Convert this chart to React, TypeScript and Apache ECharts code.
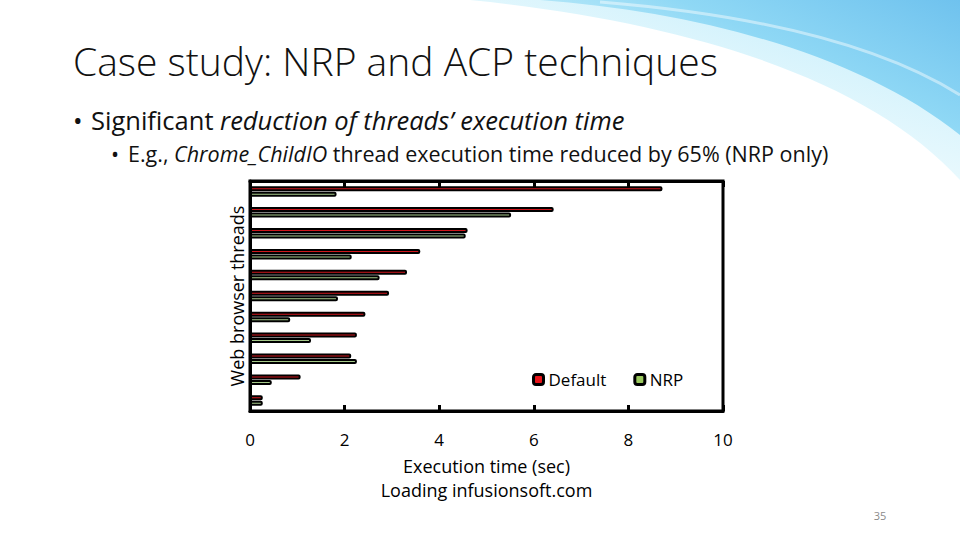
import React, { useEffect, useRef } from "react";
import * as echarts from "echarts";

const categories = ["T1", "T2", "T3", "T4", "T5", "T6", "T7", "T8", "T9", "T10", "T11"];
const defaultTimes = [8.72, 6.42, 4.6, 3.6, 3.32, 2.94, 2.44, 2.26, 2.14, 1.07, 0.27];
const nrpTimes = [1.83, 5.52, 4.56, 2.15, 2.74, 1.86, 0.85, 1.29, 2.26, 0.46, 0.27];
const xTicks = { min: 0, max: 10, interval: 2 };

const FONT = "Open Sans";

echarts.graphic.registerShape(
  "swooshMain",
  echarts.graphic.extendPath("M 540 0 C 700 12 860 55 960 135 L 960 0 Z", {})
);
echarts.graphic.registerShape(
  "swooshHalo",
  echarts.graphic.extendPath("M 470 0 C 690 22 870 80 960 180 L 960 0 Z", {})
);

export default function App() {
  const ref = useRef<HTMLDivElement>(null);
  useEffect(() => {
    if (!ref.current) return;
    const chart = echarts.init(ref.current, null, { renderer: "svg" });
    const axisLineStyle = { color: "#000", width: 3 };
    chart.setOption({
      animation: false,
      backgroundColor: "#fff",
      graphic: [
        {
          type: "swooshHalo",
          x: 0,
          y: 0,
          z: -10,
          style: {
            fill: {
              type: "linear",
              x: 1, y: 0, x2: 0.2, y2: 1,
              colorStops: [
                { offset: 0, color: "rgba(180,232,250,0.9)" },
                { offset: 0.6, color: "rgba(215,244,252,0.6)" },
                { offset: 1, color: "rgba(255,255,255,0)" },
              ],
            },
          },
        },
        {
          type: "swooshMain",
          x: 0,
          y: 0,
          z: -9,
          style: {
            fill: {
              type: "linear",
              x: 1, y: 0, x2: 0, y2: 0.7,
              colorStops: [
                { offset: 0, color: "#6fc2ee" },
                { offset: 0.45, color: "#8fd8f5" },
                { offset: 0.8, color: "#c4eefa" },
                { offset: 1, color: "#eefbfe" },
              ],
            },
          },
        },
        {
          type: "bezierCurve",
          z: -8,
          shape: { x1: 600, y1: 2, x2: 960, y2: 95, cpx1: 760, cpy1: 15, cpx2: 880, cpy2: 45 },
          style: { stroke: "rgba(255,255,255,0.45)", lineWidth: 3, fill: null },
        },
        {
          type: "text",
          x: 73,
          y: 60,
          style: {
            text: "Case study: NRP and ACP techniques",
            fontFamily: FONT,
            fontSize: 39,
            fontWeight: 300,
            fill: "#111",
            verticalAlign: "middle",
            align: "left",
          },
        },
        {
          type: "text",
          x: 73,
          y: 120,
          style: {
            text: "{b|•}{n|Significant }{i|reduction of threads’ execution time}",
            verticalAlign: "middle",
            align: "left",
            rich: {
              b: { fontFamily: FONT, fontSize: 25.5, fill: "#111", width: 18 },
              n: { fontFamily: FONT, fontSize: 25.5, fill: "#111" },
              i: { fontFamily: FONT, fontSize: 25.5, fontStyle: "italic", fill: "#111" },
            },
          },
        },
        {
          type: "text",
          x: 111,
          y: 153,
          style: {
            text: "{b|•}{n|E.g., }{i|Chrome_ChildIO}{n| thread execution time reduced by 65% (NRP only)}",
            verticalAlign: "middle",
            align: "left",
            rich: {
              b: { fontFamily: FONT, fontSize: 21.5, fill: "#111", width: 17 },
              n: { fontFamily: FONT, fontSize: 21.5, fill: "#111" },
              i: { fontFamily: FONT, fontSize: 21.5, fontStyle: "italic", fill: "#111" },
            },
          },
        },
        {
          type: "text",
          x: 880,
          y: 515,
          style: {
            text: "35",
            fontFamily: FONT,
            fontSize: 11,
            fill: "#8a8a8a",
            align: "center",
            verticalAlign: "middle",
          },
        },
      ],
      legend: {
        left: 527,
        top: 366,
        itemWidth: 10,
        itemHeight: 10,
        itemGap: 27,
        icon: "roundRect",
        textStyle: { fontFamily: FONT, fontSize: 17, color: "#000" },
        itemStyle: { borderColor: "#000", borderWidth: 3 },
        data: [
          { name: "Default", itemStyle: { color: "#e8141a" } },
          { name: "NRP", itemStyle: { color: "#9bc95f" } },
        ],
      },
      grid: {
        left: 250,
        right: 237,
        top: 181,
        bottom: 129,
        show: true,
        borderColor: "#000",
        borderWidth: 3,
        backgroundColor: "transparent",
      },
      xAxis: [
        {
          type: "value",
          position: "bottom",
          ...xTicks,
          axisLine: { show: true, lineStyle: axisLineStyle },
          axisTick: { show: true, inside: true, length: 6, lineStyle: axisLineStyle },
          splitLine: { show: false },
          axisLabel: { fontFamily: FONT, fontSize: 17, color: "#000", margin: 20 },
          name: "Execution time (sec)\nLoading infusionsoft.com",
          nameLocation: "middle",
          nameGap: 43,
          nameTextStyle: { fontFamily: FONT, fontSize: 18, color: "#000", lineHeight: 24 },
        },
        {
          type: "value",
          position: "top",
          ...xTicks,
          axisLine: { show: true, lineStyle: axisLineStyle },
          axisTick: { show: true, inside: true, length: 6, lineStyle: axisLineStyle },
          splitLine: { show: false },
          axisLabel: { show: false },
        },
      ],
      yAxis: {
        type: "category",
        data: categories,
        inverse: true,
        axisLine: { show: true, lineStyle: axisLineStyle },
        axisTick: { show: false },
        axisLabel: { show: false },
        name: "Web browser threads",
        nameLocation: "middle",
        nameGap: 4,
        nameRotate: 90,
        nameTextStyle: { fontFamily: FONT, fontSize: 18, color: "#000" },
      },
      series: [
        {
          type: "bar",
          name: "Default",
          data: defaultTimes,
          barWidth: 5,
          barGap: "10%",
          itemStyle: { color: "#d0161c", borderColor: "#000", borderWidth: 2, borderRadius: 1 },
        },
        {
          type: "bar",
          name: "NRP",
          data: nrpTimes,
          barWidth: 5,
          barGap: "10%",
          itemStyle: { color: "#a6c98a", borderColor: "#000", borderWidth: 2, borderRadius: 1 },
        },
      ],
    });
    return () => chart.dispose();
  }, []);
  return (
    <div
      ref={ref}
      style={{ position: "fixed", left: 0, top: 0, width: 960, height: 540 }}
    />
  );
}
